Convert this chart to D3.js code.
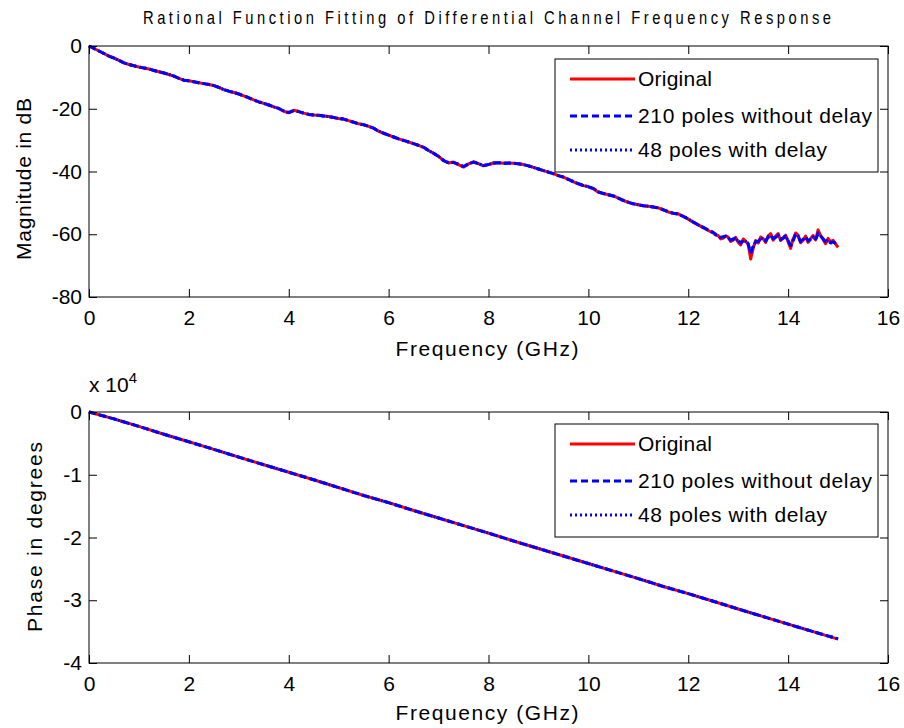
<!DOCTYPE html>
<html><head><meta charset="utf-8">
<script src="https://cdn.jsdelivr.net/npm/d3@7"></script>
<style>
html,body{margin:0;padding:0;background:#fff;}
svg{display:block;font-family:"Liberation Sans",Arial,Helvetica,sans-serif;}
</style></head>
<body>
<svg id="chart" width="904" height="728"></svg>
<script>
// ---------- DATA ----------
const titleText = "Rational Function Fitting of Differential Channel Frequency Response";
const seriesNames = ["Original", "210 poles without delay", "48 poles with delay"];
const xTicks = [0, 2, 4, 6, 8, 10, 12, 14, 16];
const magTicks = [-80, -60, -40, -20, 0];
const phaseTicks = [-40000, -30000, -20000, -10000, 0];

// magnitude samples (GHz): 0..12.4 step 0.1, then 12.5..15 step 0.05
const magFreq = [0,0.1,0.2,0.3,0.4,0.5,0.6,0.7,0.8,0.9,1,1.1,1.2,1.3,1.4,1.5,1.6,1.7,1.8,1.9,2,2.1,2.2,2.3,2.4,2.5,2.6,2.7,2.8,2.9,3,3.1,3.2,3.3,3.4,3.5,3.6,3.7,3.8,3.9,4,4.1,4.2,4.3,4.4,4.5,4.6,4.7,4.8,4.9,5,5.1,5.2,5.3,5.4,5.5,5.6,5.7,5.8,5.9,6,6.1,6.2,6.3,6.4,6.5,6.6,6.7,6.8,6.9,7,7.1,7.2,7.3,7.4,7.5,7.6,7.7,7.8,7.9,8,8.1,8.2,8.3,8.4,8.5,8.6,8.7,8.8,8.9,9,9.1,9.2,9.3,9.4,9.5,9.6,9.7,9.8,9.9,10,10.1,10.2,10.3,10.4,10.5,10.6,10.7,10.8,10.9,11,11.1,11.2,11.3,11.4,11.5,11.6,11.7,11.8,11.9,12,12.1,12.2,12.3,12.4,
  12.5,12.55,12.6,12.65,12.7,12.75,12.8,12.85,12.9,12.95,13,13.05,13.1,13.15,13.2,13.25,13.3,13.35,13.4,13.45,13.5,13.55,13.6,13.65,13.7,13.75,13.8,13.85,13.9,13.95,14,14.05,14.1,14.15,14.2,14.25,14.3,14.35,14.4,14.45,14.5,14.55,14.6,14.65,14.7,14.75,14.8,14.85,14.9,14.95,15];
const magOriginal = [0,-0.8,-1.6,-2.4,-3.2,-3.8,-4.6,-5.4,-5.9,-6.3,-6.7,-7.0,-7.3,-7.8,-8.2,-8.6,-9.1,-9.6,-10.3,-10.9,-11.1,-11.4,-11.7,-12.0,-12.3,-12.6,-13.2,-13.9,-14.4,-14.8,-15.3,-15.9,-16.5,-17.2,-17.8,-18.3,-18.8,-19.4,-19.9,-20.8,-21.3,-20.5,-20.9,-21.4,-21.8,-22.0,-22.1,-22.3,-22.5,-22.8,-23.1,-23.3,-23.8,-24.3,-24.8,-25.1,-25.6,-26.2,-27.2,-27.8,-28.4,-29.0,-29.6,-30.1,-30.6,-31.1,-31.7,-32.3,-33.3,-34.2,-35.2,-36.5,-37.3,-37.0,-37.8,-38.6,-37.6,-36.9,-37.5,-38.2,-37.8,-37.3,-37.2,-37.4,-37.3,-37.4,-37.5,-37.8,-38.2,-38.7,-39.2,-39.7,-40.2,-40.7,-41.3,-41.8,-42.5,-43.3,-43.9,-44.5,-44.8,-45.5,-46.6,-47.0,-47.4,-47.8,-48.5,-49.3,-49.8,-50.3,-50.6,-50.9,-51.1,-51.3,-51.6,-52.2,-52.9,-53.3,-53.5,-54.3,-55.2,-56.2,-57.0,-57.9,-58.8,
  -59.6,-60.3,-60.4,-61.5,-61.2,-60.5,-60.9,-62.3,-61.9,-61.0,-62.6,-63.4,-61.5,-62.2,-63.2,-67.9,-64.5,-62.0,-62.8,-60.9,-61.4,-62.6,-60.5,-59.8,-61.9,-60.6,-59.8,-62.0,-61.1,-60.3,-62.4,-64.5,-61.5,-59.6,-60.3,-62.7,-61.9,-60.6,-62.6,-61.4,-60.4,-61.8,-58.6,-60.4,-61.7,-63.0,-61.3,-62.4,-61.9,-63.1,-64.2];
const mag210 = [0,-0.8,-1.6,-2.4,-3.2,-3.9,-4.6,-5.4,-5.9,-6.3,-6.7,-7.0,-7.3,-7.8,-8.2,-8.6,-9.1,-9.6,-10.3,-10.9,-11.1,-11.4,-11.7,-12.0,-12.3,-12.6,-13.2,-13.9,-14.4,-14.8,-15.3,-15.9,-16.5,-17.2,-17.8,-18.3,-18.8,-19.4,-19.9,-20.8,-21.2,-20.6,-20.9,-21.4,-21.8,-22.0,-22.1,-22.3,-22.5,-22.8,-23.1,-23.3,-23.8,-24.3,-24.8,-25.1,-25.6,-26.2,-27.2,-27.8,-28.4,-29.0,-29.6,-30.1,-30.6,-31.1,-31.7,-32.3,-33.3,-34.2,-35.2,-36.5,-37.2,-37.1,-37.8,-38.4,-37.6,-37.0,-37.5,-38.1,-37.8,-37.3,-37.2,-37.4,-37.3,-37.4,-37.5,-37.8,-38.2,-38.7,-39.2,-39.7,-40.2,-40.7,-41.3,-41.8,-42.5,-43.2,-43.9,-44.5,-44.9,-45.4,-46.5,-47.0,-47.4,-47.8,-48.5,-49.2,-49.8,-50.3,-50.6,-50.9,-51.1,-51.3,-51.6,-52.2,-52.8,-53.3,-53.6,-54.3,-55.1,-56.1,-57.0,-57.8,-58.6,
  -59.4,-60.0,-60.2,-61.0,-60.8,-60.6,-61.3,-61.9,-61.5,-61.2,-62.0,-62.8,-62.2,-62.0,-63.0,-65.8,-64.0,-62.3,-62.3,-61.4,-61.8,-62.0,-61.0,-60.5,-61.4,-61.0,-60.4,-61.5,-61.3,-60.6,-62.0,-63.6,-62.0,-60.2,-60.8,-62.2,-61.6,-61.0,-62.1,-61.6,-61.0,-61.5,-60.0,-60.6,-61.4,-62.4,-62.0,-62.8,-62.4,-62.9,-63.4];
const mag48 = [0,-0.8,-1.6,-2.4,-3.2,-3.9,-4.6,-5.4,-5.9,-6.3,-6.7,-7.0,-7.3,-7.8,-8.2,-8.6,-9.1,-9.6,-10.3,-10.9,-11.1,-11.4,-11.7,-12.0,-12.3,-12.6,-13.2,-13.9,-14.4,-14.8,-15.3,-15.9,-16.5,-17.2,-17.8,-18.3,-18.8,-19.4,-19.9,-20.7,-21.2,-20.6,-20.9,-21.4,-21.8,-22.0,-22.1,-22.3,-22.5,-22.8,-23.1,-23.3,-23.8,-24.3,-24.8,-25.1,-25.6,-26.2,-27.1,-27.8,-28.4,-29.0,-29.6,-30.1,-30.6,-31.1,-31.7,-32.3,-33.3,-34.2,-35.2,-36.4,-37.2,-37.1,-37.7,-38.4,-37.6,-37.0,-37.5,-38.1,-37.8,-37.3,-37.2,-37.4,-37.3,-37.4,-37.5,-37.8,-38.2,-38.7,-39.2,-39.7,-40.2,-40.7,-41.3,-41.8,-42.5,-43.2,-43.9,-44.4,-44.9,-45.4,-46.5,-47.0,-47.4,-47.8,-48.5,-49.2,-49.8,-50.3,-50.6,-50.9,-51.1,-51.3,-51.6,-52.2,-52.8,-53.3,-53.6,-54.3,-55.1,-56.1,-57.0,-57.8,-58.7,
  -59.5,-60.1,-60.3,-61.2,-60.9,-60.8,-61.1,-62.0,-61.6,-61.4,-62.2,-62.6,-62.0,-62.3,-63.2,-66.2,-63.8,-62.5,-62.5,-61.2,-61.6,-62.2,-60.8,-60.2,-61.6,-60.8,-60.2,-61.7,-61.2,-60.4,-62.2,-63.9,-61.8,-60.0,-60.6,-62.4,-61.7,-60.8,-62.3,-61.5,-60.8,-61.6,-59.6,-60.5,-61.5,-62.6,-61.8,-62.6,-62.2,-63.0,-63.6];

// phase samples (degrees), 0..15 GHz step 0.5
const phaseFreq = [0,0.5,1,1.5,2,2.5,3,3.5,4,4.5,5,5.5,6,6.5,7,7.5,8,8.5,9,9.5,10,10.5,11,11.5,12,12.5,13,13.5,14,14.5,15];
const phaseOriginal = [0,-1100,-2300,-3550,-4750,-5950,-7200,-8400,-9600,-10800,-12050,-13300,-14450,-15700,-16900,-18100,-19300,-20550,-21750,-22950,-24150,-25350,-26550,-27800,-28950,-30150,-31400,-32600,-33800,-35000,-36200];
const phase210 = [0,-1100,-2300,-3550,-4750,-5950,-7200,-8400,-9600,-10800,-12050,-13300,-14450,-15700,-16900,-18100,-19300,-20550,-21750,-22950,-24150,-25350,-26550,-27800,-28950,-30150,-31400,-32600,-33800,-35000,-36150];
const phase48 = [0,-1100,-2300,-3550,-4750,-5950,-7200,-8400,-9600,-10800,-12050,-13300,-14450,-15700,-16900,-18100,-19300,-20550,-21750,-22950,-24150,-25350,-26550,-27800,-28950,-30150,-31400,-32600,-33800,-35000,-36150];

// ---------- DRAW ----------
const svg = d3.select("#chart");
const FONT = "\"Liberation Sans\",Arial,Helvetica,sans-serif";
const styles = [
  {color:"#ff0000", dash:null, width:3},
  {color:"#0000ff", dash:"7,4", width:3},
  {color:"#0000ff", dash:"2,3", width:3}
];
const x = d3.scaleLinear().domain([0,16]).range([89,888]);

function panel(opts){
  const {y, top, bottom, freq, series, ticks, fmt, legendTop} = opts;
  const g = svg.append("g");
  series.forEach((vals,i)=>{
    const line = d3.line().x((d,j)=>x(freq[j])).y(d=>y(d));
    g.append("path").datum(vals)
      .attr("d", line)
      .attr("fill","none")
      .attr("stroke", styles[i].color)
      .attr("stroke-width", styles[i].width)
      .attr("stroke-dasharray", styles[i].dash)
      .attr("stroke-linejoin","round");
  });
  g.append("rect").attr("x",89).attr("y",top).attr("width",888-89).attr("height",bottom-top)
    .attr("fill","none").attr("stroke","#000").attr("stroke-width",1);
  const ax = g.append("g").attr("transform",`translate(0,${bottom})`)
    .call(d3.axisBottom(x).tickValues(xTicks).tickSizeInner(-8).tickSizeOuter(0).tickPadding(13).tickFormat(d=>String(d)));
  const axT = g.append("g").attr("transform",`translate(0,${top})`)
    .call(d3.axisTop(x).tickValues(xTicks).tickSizeInner(-8).tickSizeOuter(0).tickFormat(""));
  const ayL = g.append("g").attr("transform",`translate(89,0)`)
    .call(d3.axisLeft(y).tickValues(ticks).tickSizeInner(-8).tickSizeOuter(0).tickPadding(7).tickFormat(fmt));
  const ayR = g.append("g").attr("transform",`translate(888,0)`)
    .call(d3.axisRight(y).tickValues(ticks).tickSizeInner(-8).tickSizeOuter(0).tickFormat(""));
  [ax,axT,ayL,ayR].forEach(a=>{
    a.select(".domain").remove();
    a.selectAll("line").attr("stroke","#000");
    a.selectAll("text").attr("font-family",FONT).attr("font-size",21).attr("fill","#000");
  });
  const lg = g.append("g");
  lg.append("rect").attr("x",555).attr("y",legendTop).attr("width",878-555).attr("height",113)
    .attr("fill","#fff").attr("stroke","#000").attr("stroke-width",1);
  const rowOff = [20,57,91];
  const textLen = [74,234,189];
  seriesNames.forEach((name,i)=>{
    const ly = legendTop + rowOff[i];
    lg.append("line").attr("x1",570).attr("x2",635).attr("y1",ly).attr("y2",ly)
      .attr("stroke",styles[i].color).attr("stroke-width",styles[i].width)
      .attr("stroke-dasharray",styles[i].dash);
    lg.append("text").attr("x",638).attr("y",ly+7).text(name)
      .attr("font-family",FONT).attr("font-size",21)
      .attr("textLength",textLen[i]).attr("lengthAdjust","spacing");
  });
  return g;
}

const yMag = d3.scaleLinear().domain([-80,0]).range([297,46]);
const yPh = d3.scaleLinear().domain([-40000,0]).range([663,412]);

panel({y:yMag, top:46, bottom:297, freq:magFreq, series:[magOriginal,mag210,mag48],
  ticks:magTicks, fmt:d=>String(d), legendTop:59});
panel({y:yPh, top:412, bottom:663, freq:phaseFreq, series:[phaseOriginal,phase210,phase48],
  ticks:phaseTicks, fmt:d=>String(d/10000), legendTop:424});

// title: condensed look via horizontal scale
svg.append("text").attr("transform","translate(487,24) scale(0.82,1)").attr("text-anchor","middle")
  .attr("font-family",FONT).attr("font-size",18).attr("textLength",839).attr("lengthAdjust","spacing")
  .text(titleText);
[356,720].forEach(by=>{
  svg.append("text").attr("x",487).attr("y",by).attr("text-anchor","middle")
    .attr("font-family",FONT).attr("font-size",21).attr("textLength",183).attr("lengthAdjust","spacing")
    .text("Frequency (GHz)");
});
svg.append("text").attr("transform","translate(31,179) rotate(-90)").attr("text-anchor","middle")
  .attr("font-family",FONT).attr("font-size",21).attr("textLength",162).attr("lengthAdjust","spacing")
  .text("Magnitude in dB");
svg.append("text").attr("transform","translate(42,537) rotate(-90)").attr("text-anchor","middle")
  .attr("font-family",FONT).attr("font-size",21).attr("textLength",190).attr("lengthAdjust","spacing")
  .text("Phase in degrees");
const ex = svg.append("text").attr("x",89).attr("y",392).attr("font-family",FONT).attr("font-size",21);
ex.append("tspan").text("x 10");
ex.append("tspan").attr("dy",-9).attr("font-size",15).text("4");
</script>
</body></html>
